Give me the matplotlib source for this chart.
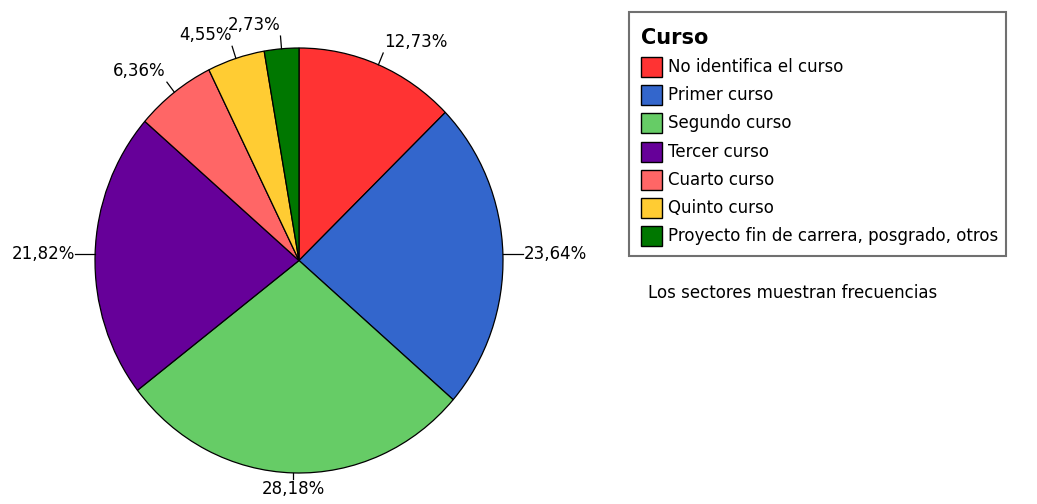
import numpy as np
import matplotlib.pyplot as plt
from matplotlib.patches import Rectangle

categorias = ['No identifica el curso', 'Primer curso', 'Segundo curso', 'Tercer curso',
              'Cuarto curso', 'Quinto curso', 'Proyecto fin de carrera, posgrado, otros']
porcentajes = [12.73, 23.64, 28.18, 21.82, 6.36, 4.55, 2.73]
etiquetas = ['12,73%', '23,64%', '28,18%', '21,82%', '6,36%', '4,55%', '2,73%']
colores = ['#FF3333', '#3366CC', '#66CC66', '#660099', '#FF6666', '#FFCC33', '#007700']

W, H = 1037, 504
fig = plt.figure(figsize=(W / 100, H / 100), dpi=100)
plt.rcParams['font.family'] = ['DejaVu Sans']
FS = 12

# pie axes placed in pixels (slightly taller than wide, like the original)
x0, x1, ytop, ybot = 95, 503, 48, 473
ax = fig.add_axes([x0 / W, (H - ybot) / H, (x1 - x0) / W, (ybot - ytop) / H])
wedges, _ = ax.pie(porcentajes, colors=colores, startangle=90, counterclock=False,
                   wedgeprops=dict(edgecolor='black', linewidth=0.9))
ax.set_aspect('auto')
ax.set_xlim(-1, 1)
ax.set_ylim(-1, 1)
ax.axis('off')

for w, lab in zip(wedges, etiquetas):
    ang = np.deg2rad((w.theta1 + w.theta2) / 2)
    c, s = np.cos(ang), np.sin(ang)
    if abs(c) > 0.95:
        ax.plot([c, c * 1.1], [s, s], color='black', lw=0.9, clip_on=False)
        ax.text(c * 1.1, s, lab, ha='left' if c > 0 else 'right', va='center',
                fontsize=FS, clip_on=False)
    elif abs(s) > 0.95 and s < 0:
        ax.plot([c, c], [s, s * 1.03], color='black', lw=0.9, clip_on=False)
        ax.text(c, s * 1.035, lab, ha='center', va='top', fontsize=FS, clip_on=False)
    else:
        ax.plot([c, c * 1.06], [s, s * 1.06], color='black', lw=0.9, clip_on=False)
        ax.text(c * 1.07, s * 1.07, lab, ha='left' if c > 0 else 'right', va='bottom',
                fontsize=FS, clip_on=False)

# legend drawn in pixel coordinates
def px(x, y):
    return x / W, 1 - y / H

fig.patches.append(Rectangle(px(629, 256), 377 / W, 244 / H, transform=fig.transFigure,
                             facecolor='white', edgecolor='#707070', lw=1.5))
fig.text(*px(641, 38), 'Curso', fontsize=15, fontweight='bold', va='center', ha='left')
for i, (cat, col) in enumerate(zip(categorias, colores)):
    yc = 67 + i * 28.2
    fig.text(*px(668, yc), cat, fontsize=FS, va='center', ha='left')
    fig.patches.append(Rectangle(px(641, yc + 10), 21 / W, 20 / H, transform=fig.transFigure,
                                 facecolor=col, edgecolor='black', lw=1.0))

fig.text(*px(648, 293), 'Los sectores muestran frecuencias', fontsize=FS,
         va='center', ha='left')

fig.savefig('out.png', dpi=100, facecolor='white')
